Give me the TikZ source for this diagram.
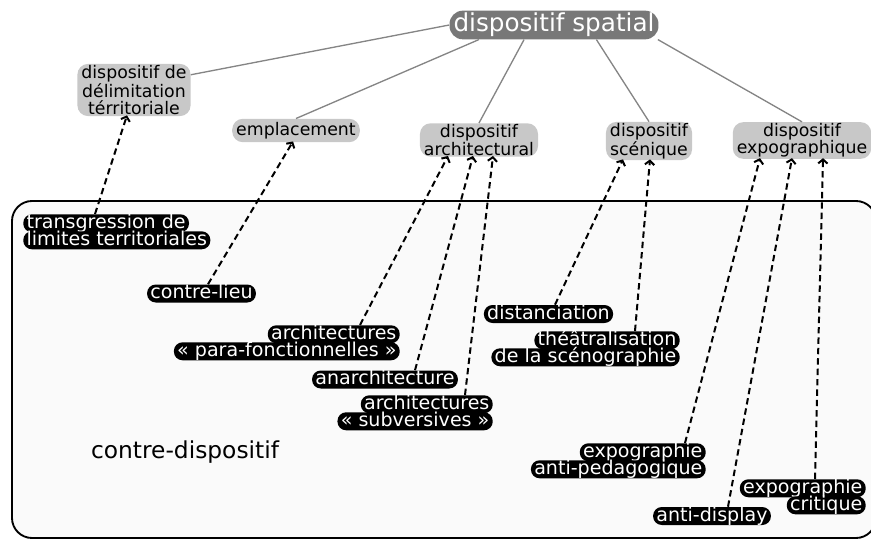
\documentclass[tikz,border=0pt]{standalone}
\usepackage{fontspec}
\setmainfont{DejaVu Sans}
\usetikzlibrary{arrows.meta,calc}
\definecolor{lightbox}{HTML}{C8C8C8}
\definecolor{darkbox}{HTML}{787878}
\definecolor{linkgray}{HTML}{858585}
\definecolor{areafill}{HTML}{FAFAFA}
\begin{document}
\begin{tikzpicture}[x=0.75pt,y=-0.75pt,
  concept/.style={fill=lightbox, rounded corners=8pt, align=center,
    font=\fontsize{13}{13}\selectfont, inner xsep=3pt, inner ysep=1pt},
  topconcept/.style={fill=darkbox, text=white, rounded corners=10pt,
    font=\fontsize{18.5}{20}\selectfont, inner xsep=3pt, inner ysep=1.8pt},
  lab/.style={fill=black, text=white, rounded corners=6.5pt,
    font=\fontsize{14.3}{15}\selectfont, inner xsep=2.5pt, inner ysep=0pt,
    text height=10.6pt, text depth=2.9pt},
  link/.style={draw=linkgray, line width=1pt},
  dep/.style={draw=black, line width=1.5pt, dash pattern=on 4.8pt off 3pt,
    -{Straight Barb[length=3pt,width=7pt]}}]
\useasboundingbox (0,0) rectangle (871,542);
\path[clip] (0,0) rectangle (871,542);

% contre-dispositif area
\draw[fill=areafill, line width=1.4pt, rounded corners=15pt] (12,201) rectangle (876,538);
\node[font=\fontsize{17.5}{20}\selectfont] (contre) at (185,452) {contre-dispositif};

% upper concepts
\node[topconcept] (spatial) at (554,25) {dispositif spatial};
\node[concept] (deli) at (134,90) {dispositif de\\délimitation\\térritoriale};
\node[concept, inner ysep=2.5pt] (empl) at (296,130.5) {emplacement};
\node[concept] (archi) at (479,140) {dispositif\\architectural};
\node[concept] (scen) at (649,141) {dispositif\\scénique};
\node[concept] (expo) at (802,140.5) {dispositif\\expographique};

\draw[link] (spatial.west) -- (deli.15);
\draw[link] (spatial.191) -- (empl.north);
\draw[link] (spatial.206) -- (archi.north);
\draw[link] (spatial.341) -- (scen.north);
\draw[link] (spatial.352) -- (expo.north);

% counter concepts
\node[lab, anchor=north west] (trans) at (23,214) {transgression de};
\node[lab, anchor=north west] (transB) at ($(trans.south west)+(0,-1.5)$) {limites territoriales};
\node[lab] (lieu) at (201.5,293.5) {contre-lieu};
\node[lab, anchor=north east] (para) at (400,325) {architectures};
\node[lab, anchor=north east] (paraB) at ($(para.south east)+(0,-1.5)$) {« para-fonctionnelles »};
\node[lab] (anar) at (385,379.5) {anarchitecture};
\node[lab, anchor=north east] (subv) at (493,395) {architectures};
\node[lab, anchor=north east] (subvB) at ($(subv.south east)+(0,-1.5)$) {« subversives »};
\node[lab] (dist) at (548.5,314) {distanciation};
\node[lab, anchor=north east] (theat) at (680,331) {théâtralisation};
\node[lab, anchor=north east] (theatB) at ($(theat.south east)+(0,-1.5)$) {de la scénographie};
\node[lab, anchor=north east] (apeda) at (706,443) {expographie};
\node[lab, anchor=north east] (apedaB) at ($(apeda.south east)+(0,-1.5)$) {anti-pedagogique};
\node[lab, anchor=north east] (crit) at (866,479) {expographie};
\node[lab, anchor=north east] (critB) at ($(crit.south east)+(0,-1.5)$) {critique};
\node[lab] (adisp) at (712,516) {anti-display};

% dashed relations
\draw[dep] ($(trans.north west)+(72,0)$) -- ($(deli.south)+(-7,-1)$);
\draw[dep] ($(lieu.north)+(6.5,0)$) -- ($(empl.south)+(-3,-1)$);
\draw[dep] ($(para.north east)+(-40,0)$) -- ($(archi.south)+(-31,-1)$);
\draw[dep] ($(anar.north)+(30,0)$) -- ($(archi.south)+(-6,-1)$);
\draw[dep] ($(subv.north east)+(-28,0)$) -- ($(archi.south)+(14,-1)$);
\draw[dep] ($(dist.north)+(6.5,0)$) -- ($(scen.south)+(-26,-1)$);
\draw[dep] ($(theat.north east)+(-45,0)$) -- ($(scen.south)+(1,-1)$);
\draw[dep] ($(apeda.north east)+(-21,0)$) -- ($(expo.south)+(-42,-1)$);
\draw[dep] ($(adisp.north)+(16,0)$) -- ($(expo.south)+(-10,-1)$);
\draw[dep] ($(crit.north east)+(-51,0)$) -- ($(expo.south)+(21,-1)$);
\end{tikzpicture}
\end{document}
